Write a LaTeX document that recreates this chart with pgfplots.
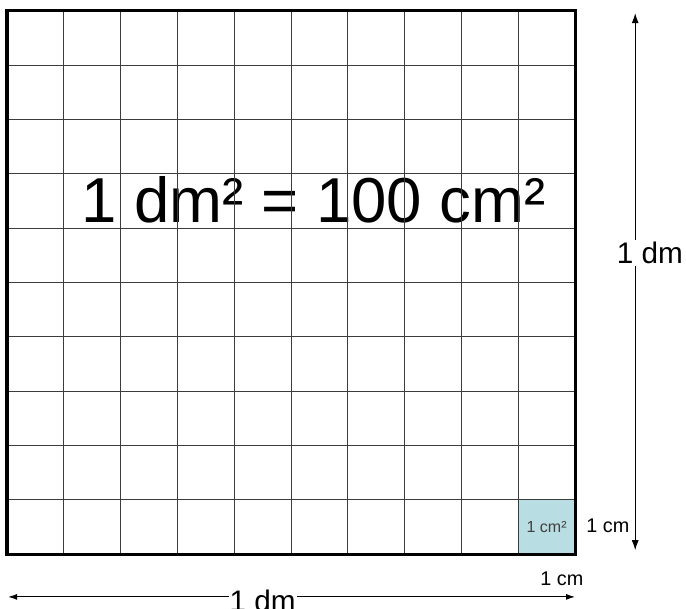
\documentclass[border=0pt]{standalone}
\usepackage{pgfplots}
\pgfplotsset{compat=1.18}
\usetikzlibrary{arrows.meta}
\usepackage{fontspec}
\setmainfont{Liberation Sans}
\definecolor{cellcyan}{RGB}{184,221,226}
\definecolor{gridgray}{RGB}{60,60,60}

\begin{document}
\begin{tikzpicture}
\path[use as bounding box] (-7bp,-55bp) rectangle (679bp,554bp);
\begin{axis}[
    scale only axis,
    width=568bp, height=543bp,
    xmin=0, xmax=10, ymin=0, ymax=10,
    xtick={0,1,...,10}, ytick={0,1,...,10},
    xticklabels={}, yticklabels={},
    major tick length=0pt,
    grid=major,
    grid style={gridgray, line width=0.9bp},
    axis line style={black, line width=3bp},
    axis on top,
    clip=false,
    ]
    % the one square centimetre
    \addplot[fill=cellcyan, draw=none] coordinates {(9,0) (10,0) (10,1) (9,1) (9,0)};

    % arrows for the side lengths
    \addplot[{Latex[length=10bp,width=7bp]}-{Latex[length=10bp,width=7bp]}, line width=1bp, black]
        coordinates {(11.06,0.07) (11.06,9.96)};
    \addplot[{Latex[length=9bp,width=6bp]}-{Latex[length=9bp,width=6bp]}, line width=1bp, black]
        coordinates {(0.02,-0.79) (10.0,-0.79)};

    \node[font=\fontsize{63.5bp}{70bp}\selectfont] at (axis cs:5.40,6.52) {1 dm² = 100 cm²};
    \node[font=\fontsize{29.7bp}{32bp}\selectfont, fill=white, inner sep=2bp] at (axis cs:11.32,5.54) {1 dm};
    \node[font=\fontsize{29.7bp}{32bp}\selectfont, fill=white, inner xsep=1bp, inner ysep=0bp] at (axis cs:4.50,-0.87) {1 dm};
    \node[font=\fontsize{19.8bp}{22bp}\selectfont] at (axis cs:10.58,0.52) {1 cm};
    \node[font=\fontsize{19.8bp}{22bp}\selectfont] at (axis cs:9.77,-0.46) {1 cm};
    \node[font=\fontsize{16bp}{18bp}\selectfont, text=black!75] at (axis cs:9.5,0.5) {1 cm²};
\end{axis}
\end{tikzpicture}
\end{document}
